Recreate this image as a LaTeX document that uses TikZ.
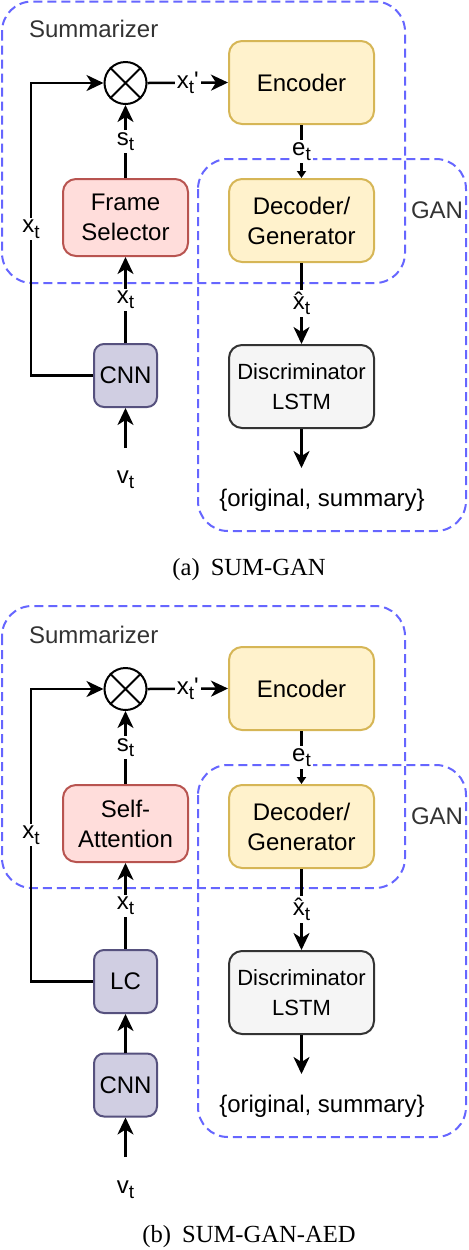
\documentclass[tikz,border=0pt]{standalone}
\usepackage{fontspec}
\setmainfont{Liberation Sans}
\newfontfamily\capfont{Liberation Serif}
\usetikzlibrary{arrows.meta}
\definecolor{groupBlue}{HTML}{6666FF}
\definecolor{groupText}{HTML}{333333}
\definecolor{encFill}{HTML}{FFF2CC}
\definecolor{encLine}{HTML}{D6B656}
\definecolor{selFill}{HTML}{FFDDDB}
\definecolor{selLine}{HTML}{B85450}
\definecolor{cnnFill}{HTML}{D0CEE2}
\definecolor{cnnLine}{HTML}{56517E}
\definecolor{disFill}{HTML}{F5F5F5}
\definecolor{disLine}{HTML}{333333}
\newcommand{\subt}{\raisebox{-2.6pt}{\fontsize{9.5}{10}\selectfont t}}

\begin{document}
\begin{tikzpicture}[x=0.5pt, y=-0.5pt, line width=1pt,
		font=\fontsize{12}{15}\selectfont,
		block/.style={draw, rounded corners=6.5pt, align=center, inner sep=0pt},
		enc/.style={block, fill=encFill, draw=encLine, minimum width=72.5pt, minimum height=41.5pt},
		sel/.style={block, fill=selFill, draw=selLine, minimum width=62.5pt, minimum height=38.5pt},
		cnn/.style={block, fill=cnnFill, draw=cnnLine, minimum width=31.5pt, minimum height=31.5pt, rounded corners=5pt},
		dis/.style={block, fill=disFill, draw=disLine, minimum width=72.5pt, minimum height=41.5pt, font=\fontsize{11}{15}\selectfont},
		mul/.style={circle, draw, fill=white, minimum size=21pt, inner sep=0pt},
		group/.style={draw=groupBlue, dash pattern=on 4.5pt off 2.5pt, rounded corners=15pt},
		grouplabel/.style={text=groupText, inner sep=0pt},
		lbl/.style={fill=white, inner sep=1pt},
		arr/.style={line width=1.25pt, -{Stealth[length=8.5pt,width=8pt,inset=2.5pt]}},
		tri/.style={line width=1.25pt, -{Triangle[length=3.5pt,width=4.5pt]}}]
		\useasboundingbox (0,0) rectangle (468,1250);

		% (a) SUM-GAN
		\draw[group] (2,1.5) rectangle (405,283);
		\draw[group] (198,159) rectangle (466,531);
		\node[grouplabel, anchor=west] (sumLabelA) at (28,29) {Summarizer};
		\node[grouplabel, anchor=west] (ganLabelA) at (410,210) {GAN};

		\node[mul] (mulA) at (125.5,83) {};
		\draw (mulA.north east) -- (mulA.south west) (mulA.north west) -- (mulA.south east);
		\node[enc] (encA) at (301.5,82.5) {Encoder};
		\node[enc] (decA) at (301.5,220.5) {Decoder/\\Generator};
		\node[sel] (selA) at (125.5,217.5) {Frame\\Selector};
		\node[cnn] (cnnA) at (125.5,375.5) {CNN};
		\node[dis] (disA) at (301.5,386.5) {Discriminator\\LSTM};
		\node (origA) at (322,500) {\{original, summary\}};
		\node (vA) at (125.5,480) {v\subt};
		\coordinate (inA) at (125.5,448);
		\coordinate (outA) at (301.5,468);

		\draw[arr] (cnnA.west) -- ++(-62,0) |- node[lbl, pos=0.25] {x\subt} (mulA.west);
		\draw[arr] (cnnA.north) -- node[lbl] {x\subt} (selA.south);
		\draw[arr] (selA.north) -- node[lbl] {s\subt} (mulA.south);
		\draw[arr] (mulA.east) -- node[lbl] {x\subt\textquotesingle} (encA.west);
		\draw[tri] (encA.south) -- node[lbl] {e\subt} (decA.north);
		\draw[arr] (decA.south) -- node[lbl] {\^{x}\subt} (disA.north);
		\draw[arr] (disA.south) -- (outA);
		\draw[arr] (inA) -- (cnnA.south);

		\node (capA) at (249,570) {\capfont\fontsize{12.3}{14}\selectfont (a)\hspace{0.45em}SUM-GAN};

		% (b) SUM-GAN-AED
		\draw[group] (2,606) rectangle (405,888);
		\draw[group] (198,765) rectangle (466,1137);
		\node[grouplabel, anchor=west] (sumLabelB) at (28,635) {Summarizer};
		\node[grouplabel, anchor=west] (ganLabelB) at (410,816) {GAN};

		\node[mul] (mulB) at (125.5,689) {};
		\draw (mulB.north east) -- (mulB.south west) (mulB.north west) -- (mulB.south east);
		\node[enc] (encB) at (301.5,688.5) {Encoder};
		\node[enc] (decB) at (301.5,826.5) {Decoder/\\Generator};
		\node[sel] (selB) at (125.5,823.5) {Self-\\Attention};
		\node[cnn] (lcB) at (125.5,981.5) {LC};
		\node[cnn] (cnnB) at (125.5,1085) {CNN};
		\node[dis] (disB) at (301.5,992.5) {Discriminator\\LSTM};
		\node (origB) at (322,1106) {\{original, summary\}};
		\node (vB) at (125.5,1190) {v\subt};
		\coordinate (inB) at (125.5,1157);
		\coordinate (outB) at (301.5,1074);

		\draw[arr] (lcB.west) -- ++(-62,0) |- node[lbl, pos=0.25] {x\subt} (mulB.west);
		\draw[arr] (lcB.north) -- node[lbl] {x\subt} (selB.south);
		\draw[arr] (selB.north) -- node[lbl] {s\subt} (mulB.south);
		\draw[arr] (mulB.east) -- node[lbl] {x\subt\textquotesingle} (encB.west);
		\draw[tri] (encB.south) -- node[lbl] {e\subt} (decB.north);
		\draw[arr] (decB.south) -- node[lbl] {\^{x}\subt} (disB.north);
		\draw[arr] (disB.south) -- (outB);
		\draw[arr] (cnnB.north) -- (lcB.south);
		\draw[arr] (inB) -- (cnnB.south);

		\node (capB) at (249,1237) {\capfont\fontsize{12.3}{14}\selectfont (b)\hspace{0.45em}SUM-GAN-AED};
	\end{tikzpicture}
\end{document}
